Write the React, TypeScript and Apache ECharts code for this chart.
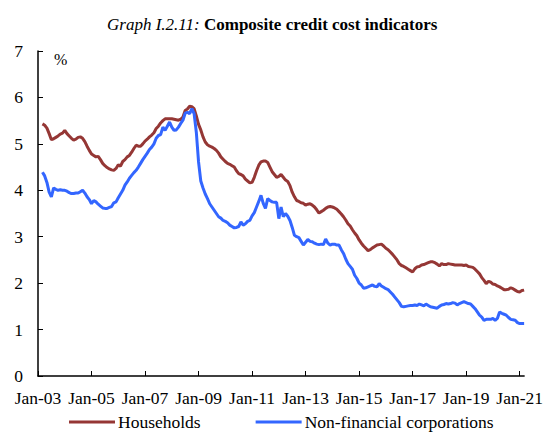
import React, { useEffect, useRef } from "react";
import * as echarts from "echarts";

const startYear = 2003;
const monthNames = ["Jan", "Feb", "Mar", "Apr", "May", "Jun", "Jul", "Aug", "Sep", "Oct", "Nov", "Dec"];

// Households, monthly from Jan-03 to Mar-21 (%)
const households: (number | null)[] = [
  null, null, 5.43, 5.40, 5.34, 5.22, 5.09, 5.11, 5.14, 5.17, 5.21, 5.23,
  5.29, 5.22, 5.17, 5.12, 5.08, 5.10, 5.14, 5.15, 5.12, 5.05, 4.95, 4.86,
  4.78, 4.75, 4.72, 4.73, 4.66, 4.58, 4.53, 4.49, 4.46, 4.44, 4.43, 4.47,
  4.55, 4.52, 4.62, 4.66, 4.72, 4.75, 4.82, 4.90, 4.97, 4.95, 4.95, 5.00,
  5.06, 5.10, 5.15, 5.19, 5.24, 5.33, 5.38, 5.45, 5.50, 5.54, 5.54, 5.54,
  5.54, 5.53, 5.52, 5.51, 5.53, 5.58, 5.72, 5.75, 5.81, 5.80, 5.76, 5.60,
  5.42, 5.30, 5.15, 5.04, 4.98, 4.95, 4.93, 4.90, 4.86, 4.80, 4.72, 4.67,
  4.62, 4.58, 4.56, 4.53, 4.50, 4.42, 4.36, 4.34, 4.31, 4.24, 4.20, 4.16,
  4.17, 4.28, 4.42, 4.54, 4.61, 4.63, 4.63, 4.60, 4.50, 4.40, 4.34, 4.28,
  4.30, 4.34, 4.28, 4.22, 4.19, 4.10, 3.96, 3.86, 3.78, 3.76, 3.73, 3.72,
  3.68, 3.70, 3.71, 3.68, 3.64, 3.58, 3.51, 3.54, 3.57, 3.61, 3.64, 3.65,
  3.64, 3.62, 3.59, 3.54, 3.49, 3.43, 3.36, 3.28, 3.23, 3.15, 3.08, 3.02,
  2.93, 2.86, 2.80, 2.75, 2.70, 2.72, 2.76, 2.79, 2.82, 2.83, 2.84, 2.80,
  2.75, 2.72, 2.67, 2.62, 2.56, 2.50, 2.42, 2.38, 2.36, 2.33, 2.30, 2.27,
  2.24, 2.31, 2.35, 2.36, 2.39, 2.40, 2.42, 2.44, 2.46, 2.46, 2.44, 2.41,
  2.37, 2.42, 2.40, 2.40, 2.42, 2.41, 2.40, 2.39, 2.39, 2.39, 2.39, 2.38,
  2.39, 2.36, 2.35, 2.34, 2.30, 2.25, 2.20, 2.12, 2.06, 1.99, 2.04, 2.02,
  1.98, 1.97, 1.94, 1.92, 1.89, 1.86, 1.86, 1.87, 1.90, 1.88, 1.85, 1.82,
  1.81, 1.84, 1.85,
];

// Non-financial corporations, monthly from Jan-03 to Mar-21 (%)
const corporations: (number | null)[] = [
  null, null, 4.39, 4.31, 4.17, 3.96, 3.86, 4.05, 4.02, 4.00, 4.01, 4.00,
  4.00, 3.98, 3.95, 3.93, 3.93, 3.94, 3.94, 3.97, 4.00, 3.94, 3.86, 3.80,
  3.71, 3.78, 3.75, 3.70, 3.66, 3.62, 3.61, 3.61, 3.63, 3.65, 3.73, 3.75,
  3.84, 3.92, 4.00, 4.11, 4.18, 4.26, 4.32, 4.38, 4.43, 4.50, 4.58, 4.66,
  4.73, 4.80, 4.88, 4.93, 5.00, 5.12, 5.18, 5.20, 5.36, 5.29, 5.38, 5.47,
  5.36, 5.29, 5.30, 5.36, 5.44, 5.51, 5.66, 5.68, 5.65, 5.76, 5.65, 5.25,
  4.61, 4.20, 4.05, 3.92, 3.82, 3.71, 3.64, 3.57, 3.50, 3.43, 3.40, 3.35,
  3.33, 3.30, 3.25, 3.22, 3.19, 3.20, 3.22, 3.32, 3.25, 3.28, 3.33, 3.35,
  3.45, 3.52, 3.64, 3.76, 3.89, 3.72, 3.61, 3.82, 3.78, 3.75, 3.74, 3.74,
  3.39, 3.64, 3.43, 3.50, 3.44, 3.35, 3.20, 3.03, 3.00, 2.98, 2.90, 2.82,
  2.88, 2.94, 2.90, 2.89, 2.86, 2.84, 2.83, 2.84, 2.83, 2.95, 2.86, 2.82,
  2.84, 2.84, 2.82, 2.82, 2.72, 2.64, 2.52, 2.42, 2.36, 2.30, 2.17, 2.10,
  2.00, 1.96, 1.89, 1.90, 1.92, 1.94, 1.96, 1.93, 1.92, 1.99, 1.94, 1.91,
  1.88, 1.86, 1.81, 1.76, 1.70, 1.64, 1.58, 1.50, 1.49, 1.50, 1.51, 1.52,
  1.52, 1.53, 1.52, 1.55, 1.53, 1.51, 1.55, 1.52, 1.49, 1.48, 1.47, 1.46,
  1.50, 1.53, 1.54, 1.56, 1.55, 1.56, 1.58, 1.57, 1.53, 1.56, 1.58, 1.60,
  1.58, 1.56, 1.55, 1.50, 1.45, 1.38, 1.31, 1.27, 1.20, 1.22, 1.22, 1.22,
  1.24, 1.20, 1.24, 1.38, 1.35, 1.33, 1.31, 1.26, 1.22, 1.21, 1.20, 1.15,
  1.13, 1.13, 1.13,
];

const categories: string[] = households.map((_, i) => {
  const y = startYear + Math.floor(i / 12);
  return `${monthNames[i % 12]}-${String(y % 100).padStart(2, "0")}`;
});

const yTicks = [0, 1, 2, 3, 4, 5, 6, 7];

const FONT = "Liberation Serif";
const RED = "#953735";
const BLUE = "#3366FF";

export default function App() {
  const ref = useRef<HTMLDivElement>(null);
  useEffect(() => {
    if (!ref.current) return;
    const chart = echarts.init(ref.current, undefined, { renderer: "svg" });
    const labelEvery = (i: number) => i % 24 === 0;
    chart.setOption({
      animation: false,
      backgroundColor: "#ffffff",
      textStyle: { fontFamily: FONT, color: "#000" },
      title: {
        text: "{i|Graph I.2.11:} {b|Composite credit cost indicators}",
        left: 102,
        top: 11,
        textStyle: {
          fontFamily: FONT,
          fontWeight: "normal",
          fontSize: 17,
          rich: {
            i: { fontFamily: FONT, fontStyle: "italic", fontWeight: "normal", fontSize: 17, color: "#000" },
            b: { fontFamily: FONT, fontStyle: "normal", fontWeight: "bold", fontSize: 17, color: "#000" },
          },
        },
      },
      graphic: [
        {
          type: "text",
          left: 54,
          top: 51,
          style: { text: "%", fontFamily: FONT, fontStyle: "normal", fontWeight: "normal", fontSize: 16, fill: "#000" },
        },
      ],
      legend: {
        top: 408,
        left: 64,
        itemGap: 55,
        itemWidth: 46,
        itemHeight: 3,
        icon: "rect",
        textStyle: { fontFamily: FONT, fontStyle: "normal", fontWeight: "normal", fontSize: 17.5, color: "#000", padding: [0, 0, 0, -2] },
        data: ["Households", "Non-financial corporations"],
      },
      grid: { left: 38, right: 21, top: 51, bottom: 57, containLabel: false },
      xAxis: {
        type: "category",
        data: categories,
        boundaryGap: false,
        axisLine: { lineStyle: { color: "#000", width: 1.5 } },
        axisTick: { inside: true, length: 5, interval: labelEvery, lineStyle: { color: "#000" } },
        axisLabel: {
          interval: labelEvery,
          fontFamily: FONT,
          fontStyle: "normal",
          fontWeight: "normal",
          fontSize: 17.5,
          color: "#000",
          margin: 13,
        },
        splitLine: { show: false },
      },
      yAxis: {
        type: "value",
        min: yTicks[0],
        max: yTicks[yTicks.length - 1],
        interval: 1,
        axisLine: { show: true, lineStyle: { color: "#000", width: 1.5 } },
        axisTick: { show: true, inside: true, length: 5, lineStyle: { color: "#000" } },
        axisLabel: { fontFamily: FONT, fontStyle: "normal", fontWeight: "normal", fontSize: 17.5, color: "#000", margin: 15 },
        splitLine: { show: false },
      },
      series: [
        {
          name: "Households",
          type: "line",
          data: households,
          showSymbol: false,
          symbol: "none",
          lineStyle: { color: RED, width: 3 },
          itemStyle: { color: RED },
        },
        {
          name: "Non-financial corporations",
          type: "line",
          data: corporations,
          showSymbol: false,
          symbol: "none",
          lineStyle: { color: BLUE, width: 3 },
          itemStyle: { color: BLUE },
        },
      ],
    });
    return () => chart.dispose();
  }, []);
  return <div ref={ref} style={{ width: 546, height: 433, position: "absolute", left: 0, top: 0 }} />;
}
